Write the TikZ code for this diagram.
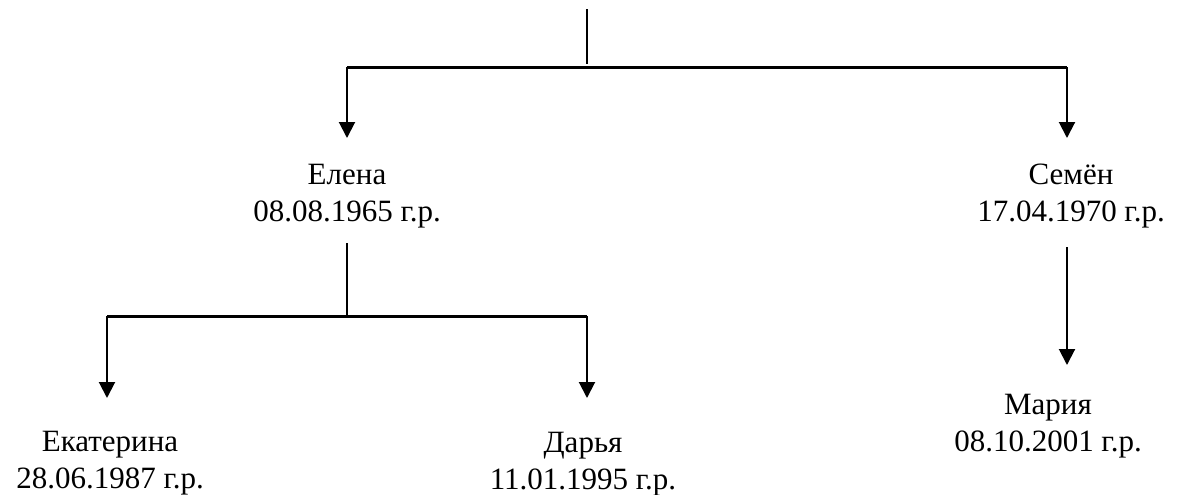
\documentclass[tikz,border=0pt]{standalone}
\usepackage{fontspec}
\setmainfont{Liberation Serif}
\usetikzlibrary{arrows.meta}
\begin{document}
\begin{tikzpicture}[x=0.5pt,y=-0.5pt,
  person/.style={align=center,font=\fontsize{15.5}{18.5}\selectfont,inner sep=0pt},
  thinline/.style={line width=0.75pt},
  barline/.style={line width=1.5pt},
  arr/.style={line width=1pt,-{Triangle[width=8pt,length=8pt]}}]
\useasboundingbox (0,0) rectangle (1180,494);
% people
\node[person] (elena) at (347,196.5) {Елена\\08.08.1965 г.р.};
\node[person] (semen) at (1071,196) {Семён\\17.04.1970 г.р.};
\node[person] (ekat) at (110,463.5) {Екатерина\\28.06.1987 г.р.};
\node[person] (darya) at (583,464.5) {Дарья\\11.01.1995 г.р.};
\node[person] (maria) at (1048,426.5) {Мария\\08.10.2001 г.р.};
% coordinates
\coordinate (rootTop) at (587,9);
\coordinate (rootBot) at (587,64);
\coordinate (barL) at (347,67);
\coordinate (barR) at (1067,67);
\coordinate (elenaIn) at (347,138);
\coordinate (semenIn) at (1067,138);
\coordinate (elenaOut) at (347,243);
\coordinate (elenaJ) at (347,316);
\coordinate (bar2L) at (107,316);
\coordinate (bar2R) at (587,316);
\coordinate (ekatIn) at (107,398);
\coordinate (daryaIn) at (587,398);
\coordinate (semenOut) at (1067,247);
\coordinate (mariaIn) at (1067,365);
% connectors
\draw[thinline] (rootTop) -- (rootBot);
\draw[barline] (barL) -- (barR);
\draw[arr] (barL) -- (elenaIn);
\draw[arr] (barR) -- (semenIn);
\draw[thinline] (elenaOut) -- (elenaJ);
\draw[barline] (bar2L) -- (bar2R);
\draw[arr] (bar2L) -- (ekatIn);
\draw[arr] (bar2R) -- (daryaIn);
\draw[arr] (semenOut) -- (mariaIn);
\end{tikzpicture}
\end{document}
